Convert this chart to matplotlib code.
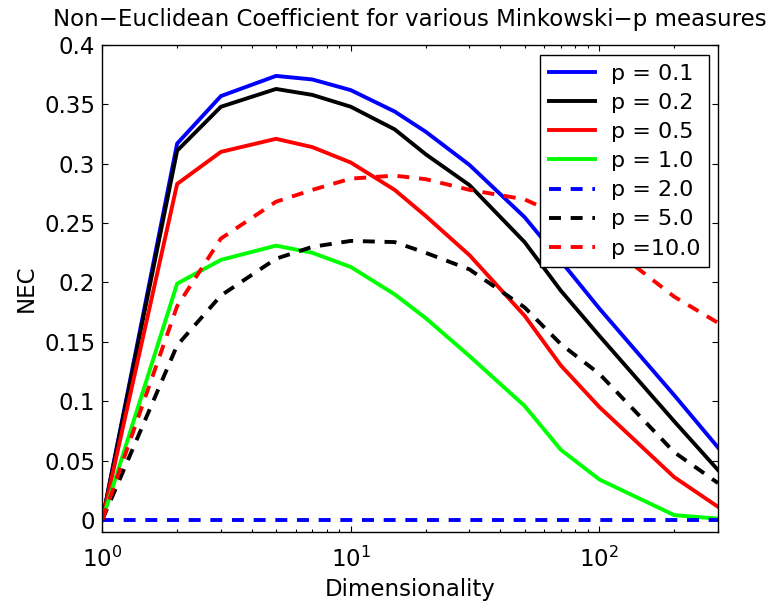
import matplotlib
matplotlib.use("Agg")
import matplotlib.pyplot as plt
from matplotlib.ticker import NullFormatter

# Données
dims = [1, 2, 3, 5, 7, 10, 15, 20, 30, 50, 70, 100, 200, 300]

nec_p01 = [0, 0.317, 0.357, 0.374, 0.371, 0.362, 0.344, 0.327, 0.299, 0.255, 0.218, 0.178, 0.105, 0.061]
nec_p02 = [0, 0.311, 0.348, 0.363, 0.358, 0.348, 0.329, 0.308, 0.282, 0.234, 0.193, 0.155, 0.083, 0.042]
nec_p05 = [0, 0.283, 0.310, 0.321, 0.314, 0.301, 0.278, 0.256, 0.223, 0.172, 0.130, 0.095, 0.036, 0.011]
nec_p1 = [0, 0.199, 0.219, 0.231, 0.225, 0.213, 0.190, 0.170, 0.138, 0.096, 0.059, 0.034, 0.004, 0.001]
nec_p2 = [0, 0, 0, 0, 0, 0, 0, 0, 0, 0, 0, 0, 0, 0]
nec_p5 = [0, 0.147, 0.189, 0.220, 0.230, 0.235, 0.234, 0.225, 0.211, 0.179, 0.148, 0.123, 0.057, 0.031]
nec_p10 = [0, 0.180, 0.237, 0.268, 0.278, 0.2875, 0.290, 0.287, 0.278, 0.270, 0.256, 0.237, 0.188, 0.166]

series = [nec_p01, nec_p02, nec_p05, nec_p1, nec_p2, nec_p5, nec_p10]
labels = ["p = 0.1", "p = 0.2", "p = 0.5", "p = 1.0", "p = 2.0", "p = 5.0", "p =10.0"]
colors = ["#0000ff", "#000000", "#ff0000", "#00ff00", "#0000ff", "#000000", "#ff0000"]
styles = ["-", "-", "-", "-", "--", "--", "--"]

ytick_vals = [0, 0.05, 0.1, 0.15, 0.2, 0.25, 0.3, 0.35, 0.4]
ytick_labels = ["0", "0.05", "0.1", "0.15", "0.2", "0.25", "0.3", "0.35", "0.4"]
xtick_vals = [1, 10, 100]
xtick_labels = ["$10^0$", "$10^1$", "$10^2$"]

FS = 16.5

plt.rcParams["font.family"] = ["DejaVu Sans"]
plt.rcParams["font.size"] = FS
plt.rcParams["lines.scale_dashes"] = False

fig = plt.figure(figsize=(7.67, 6.03), dpi=100)
ax = fig.add_axes([0.1334, 0.1182, 0.8027, 0.8071])

for ys, lab, c, ls in zip(series, labels, colors, styles):
    line, = ax.plot(dims, ys, color=c, lw=2.8, label=lab, linestyle=ls)
    if ls == "--":
        line.set_dashes((8.6, 7.0))

ax.set_xscale("log")
ax.set_xlim(1, 300)
ax.set_ylim(-0.01, 0.4)
ax.set_xticks(xtick_vals)
ax.set_xticklabels(xtick_labels)
ax.xaxis.set_minor_formatter(NullFormatter())
ax.set_yticks(ytick_vals)
ax.set_yticklabels(ytick_labels)

ax.tick_params(which="both", direction="in", top=True, right=True, width=0.8)
ax.tick_params(which="major", length=4.5, labelsize=FS)
ax.tick_params(axis="x", which="major", pad=11)
ax.tick_params(axis="y", which="major", pad=5)
ax.tick_params(which="minor", length=2.3)
for s in ax.spines.values():
    s.set_linewidth(1.0)

ax.set_xlabel("Dimensionality", fontsize=FS, labelpad=4)
ax.set_ylabel("NEC", fontsize=FS, labelpad=5)
ax.set_title("Non\u2212Euclidean Coefficient for various Minkowski\u2212p measures",
             fontsize=16.5, pad=14)

leg = ax.legend(loc="upper right", bbox_to_anchor=(0.9854, 0.9795), borderaxespad=0,
                fancybox=False, framealpha=1, edgecolor="black", fontsize=16,
                handlelength=2.1, handletextpad=0.68, labelspacing=0.41, borderpad=0.4)
leg.get_frame().set_linewidth(1.0)

fig.savefig("out.png", dpi=100)
